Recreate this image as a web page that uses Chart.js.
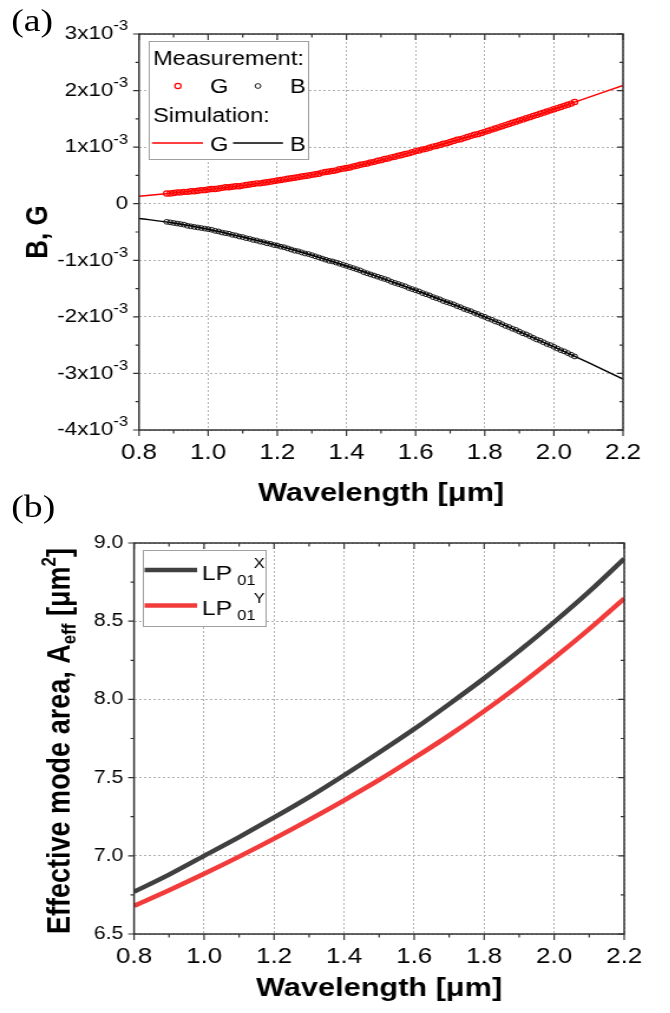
<!DOCTYPE html>
<html>
<head>
<meta charset="utf-8">
<script src="https://cdn.jsdelivr.net/npm/chart.js@4.4.0/dist/chart.umd.min.js"></script>
<style>
  html, body { margin: 0; padding: 0; background: #fff; }
  body { width: 670px; height: 1013px; overflow: hidden; position: relative; }
  /* the reference figure is stretched sideways, so the whole drawing is too */
  #wrap { position: absolute; left: 0; top: 0; width: 568px; height: 1013px; transform: scaleX(1.18); transform-origin: 0 0; }
  canvas { position: absolute; left: 0; }
  #chartA { top: 0; }
  #chartB { top: 510px; }
  .panel { position: absolute; font-family: 'Liberation Serif', 'Times New Roman', serif; font-size: 32px; line-height: 32px; color: #000; }
</style>
</head>
<body>
<div id="wrap">
  <canvas id="chartA" width="568" height="510"></canvas>
  <canvas id="chartB" width="568" height="503"></canvas>
  <div class="panel" style="left:9.5px; top:4px">(a)</div>
  <div class="panel" style="left:9.5px; top:490px">(b)</div>
</div>
<script>
// ---- data (a): susceptance B and conductance G, in units of 1e-3 ----
const xTicks = [0.8, 1.0, 1.2, 1.4, 1.6, 1.8, 2.0, 2.2];
const bgTicks = [-4, -3, -2, -1, 0, 1, 2, 3];
const bgExponent = '-3';

const simWavelength = [0.8, 0.9, 1.0, 1.1, 1.2, 1.3, 1.4, 1.5, 1.6, 1.7, 1.8, 1.9, 2.0, 2.1, 2.2];
const simG = [0.13, 0.19, 0.25, 0.32, 0.405, 0.51, 0.63, 0.77, 0.925, 1.09, 1.27, 1.465, 1.67, 1.88, 2.09];
const simB = [-0.26, -0.34, -0.45, -0.59, -0.74, -0.91, -1.10, -1.31, -1.53, -1.76, -2.00, -2.26, -2.53, -2.81, -3.10];

const measWavelength = [
  0.88, 0.89, 0.90, 0.91, 0.92, 0.93, 0.94, 0.95, 0.96, 0.97, 0.98, 0.99,
  1.00, 1.01, 1.02, 1.03, 1.04, 1.05, 1.06, 1.07, 1.08, 1.09,
  1.10, 1.11, 1.12, 1.13, 1.14, 1.15, 1.16, 1.17, 1.18, 1.19,
  1.20, 1.21, 1.22, 1.23, 1.24, 1.25, 1.26, 1.27, 1.28, 1.29,
  1.30, 1.31, 1.32, 1.33, 1.34, 1.35, 1.36, 1.37, 1.38, 1.39,
  1.40, 1.41, 1.42, 1.43, 1.44, 1.45, 1.46, 1.47, 1.48, 1.49,
  1.50, 1.51, 1.52, 1.53, 1.54, 1.55, 1.56, 1.57, 1.58, 1.59,
  1.60, 1.61, 1.62, 1.63, 1.64, 1.65, 1.66, 1.67, 1.68, 1.69,
  1.70, 1.71, 1.72, 1.73, 1.74, 1.75, 1.76, 1.77, 1.78, 1.79,
  1.80, 1.81, 1.82, 1.83, 1.84, 1.85, 1.86, 1.87, 1.88, 1.89,
  1.90, 1.91, 1.92, 1.93, 1.94, 1.95, 1.96, 1.97, 1.98, 1.99,
  2.00, 2.01, 2.02, 2.03, 2.04, 2.05, 2.06
];
const measG = [
  0.18, 0.18, 0.19, 0.20, 0.20, 0.21, 0.21, 0.22, 0.22, 0.23, 0.24, 0.24,
  0.25, 0.26, 0.26, 0.27, 0.28, 0.29, 0.29, 0.30, 0.31, 0.31,
  0.32, 0.33, 0.34, 0.35, 0.36, 0.36, 0.37, 0.38, 0.39, 0.40,
  0.41, 0.42, 0.43, 0.44, 0.45, 0.46, 0.47, 0.48, 0.49, 0.50,
  0.51, 0.52, 0.53, 0.55, 0.56, 0.57, 0.58, 0.59, 0.61, 0.62,
  0.63, 0.64, 0.66, 0.67, 0.69, 0.70, 0.71, 0.73, 0.74, 0.76,
  0.77, 0.79, 0.80, 0.82, 0.83, 0.85, 0.86, 0.88, 0.89, 0.91,
  0.93, 0.94, 0.96, 0.97, 0.99, 1.01, 1.02, 1.04, 1.06, 1.07,
  1.09, 1.11, 1.13, 1.14, 1.16, 1.18, 1.20, 1.22, 1.23, 1.25,
  1.27, 1.29, 1.31, 1.33, 1.35, 1.37, 1.39, 1.41, 1.43, 1.45,
  1.47, 1.49, 1.51, 1.53, 1.55, 1.57, 1.59, 1.61, 1.63, 1.65,
  1.67, 1.69, 1.71, 1.73, 1.75, 1.77, 1.80
];
const measB = [
  -0.32, -0.33, -0.34, -0.35, -0.36, -0.37, -0.39, -0.40, -0.41, -0.42, -0.43, -0.44,
  -0.45, -0.46, -0.48, -0.49, -0.51, -0.52, -0.53, -0.55, -0.56, -0.58,
  -0.59, -0.61, -0.62, -0.64, -0.65, -0.67, -0.68, -0.70, -0.71, -0.73,
  -0.74, -0.76, -0.77, -0.79, -0.81, -0.83, -0.84, -0.86, -0.88, -0.89,
  -0.91, -0.93, -0.95, -0.97, -0.99, -1.01, -1.02, -1.04, -1.06, -1.08,
  -1.10, -1.12, -1.14, -1.16, -1.18, -1.21, -1.23, -1.25, -1.27, -1.29,
  -1.31, -1.33, -1.35, -1.38, -1.40, -1.42, -1.44, -1.46, -1.49, -1.51,
  -1.53, -1.55, -1.58, -1.60, -1.62, -1.65, -1.67, -1.69, -1.72, -1.74,
  -1.76, -1.78, -1.81, -1.83, -1.86, -1.88, -1.90, -1.93, -1.95, -1.98,
  -2.00, -2.03, -2.05, -2.08, -2.10, -2.13, -2.16, -2.18, -2.21, -2.23,
  -2.26, -2.29, -2.31, -2.34, -2.37, -2.40, -2.42, -2.45, -2.48, -2.50,
  -2.53, -2.56, -2.59, -2.61, -2.64, -2.67, -2.70
];

// ---- data (b): effective mode area ----
const aeffTicks = [6.5, 7.0, 7.5, 8.0, 8.5, 9.0];
const aeffWavelength = [0.8, 0.9, 1.0, 1.1, 1.2, 1.3, 1.4, 1.5, 1.6, 1.7, 1.8, 1.9, 2.0, 2.1, 2.2];
const aeffX = [6.77, 6.88, 7.00, 7.12, 7.245, 7.375, 7.515, 7.66, 7.81, 7.97, 8.135, 8.31, 8.495, 8.69, 8.90];
const aeffY = [6.68, 6.78, 6.885, 6.995, 7.11, 7.23, 7.355, 7.485, 7.625, 7.77, 7.925, 8.09, 8.265, 8.45, 8.645];

const FONT = "'Liberation Sans', Arial, Helvetica, sans-serif";
Chart.defaults.font.family = FONT;
Chart.defaults.color = '#000';

const pts = (xs, ys) => xs.map((x, i) => ({ x: x, y: ys[i] }));
const setTicks = arr => scale => { scale.ticks = arr.map(v => ({ value: v })); };
const gridLines = { color: '#b0b0b0', lineWidth: 1, drawTicks: false };
const dotted = { display: false, dash: [2, 2] };

// box, tick marks out on bottom/left, in on top/right
function drawFrame(chart) {
    const { ctx, chartArea: a, scales: { x, y } } = chart;
    const xv = x.ticks.map(t => t.value);
    const yv = y.ticks.map(t => t.value);
    const mids = v => v.slice(1).map((t, i) => (t + v[i]) / 2);
    ctx.save();
    ctx.strokeStyle = '#333';
    ctx.lineWidth = 1.5;
    ctx.strokeRect(a.left, a.top, a.right - a.left, a.bottom - a.top);
    ctx.lineWidth = 1.2;
    ctx.beginPath();
    [[xv, 6], [mids(xv), 3.5]].forEach(([vals, len]) => vals.forEach(v => {
        const px = x.getPixelForValue(v);
        ctx.moveTo(px, a.bottom); ctx.lineTo(px, a.bottom + len);
        ctx.moveTo(px, a.top); ctx.lineTo(px, a.top + len);
    }));
    [[yv, 5], [mids(yv), 3]].forEach(([vals, len]) => vals.forEach(v => {
        const py = y.getPixelForValue(v);
        ctx.moveTo(a.left, py); ctx.lineTo(a.left - len, py);
        ctx.moveTo(a.right, py); ctx.lineTo(a.right - len, py);
    }));
    ctx.stroke();
    ctx.restore();
}

// y tick labels like 3x10^-3
function drawSciTicks(chart) {
    const { ctx, chartArea: a, scales: { y } } = chart;
    const xr = a.left - 9.3;
    ctx.save();
    ctx.fillStyle = '#000';
    ctx.textAlign = 'right';
    ctx.textBaseline = 'middle';
    y.ticks.forEach(t => {
        const py = y.getPixelForValue(t.value);
        ctx.font = '19px ' + FONT;
        if (t.value === 0) {
            ctx.fillText('0', xr, py);
            return;
        }
        ctx.font = '14px ' + FONT;
        const w = ctx.measureText(bgExponent).width;
        ctx.fillText(bgExponent, xr, py - 7.5);
        ctx.font = '19px ' + FONT;
        ctx.fillText(t.value + 'x10', xr - w, py);
    });
    ctx.restore();
}

function legendBox(ctx, x, y, w, h) {
    ctx.fillStyle = '#fff';
    ctx.fillRect(x, y, w, h);
    ctx.strokeStyle = '#a0a0a0';
    ctx.lineWidth = 1;
    ctx.strokeRect(x + 0.5, y + 0.5, w, h);
}

function drawLegendA(chart) {
    const { ctx } = chart;
    const ds = chart.data.datasets;
    ctx.save();
    legendBox(ctx, 126, 41, 135, 118);
    ctx.fillStyle = '#000';
    ctx.font = '20px ' + FONT;
    ctx.textAlign = 'left';
    ctx.textBaseline = 'alphabetic';
    ctx.fillText('Measurement:', 129.7, 65);
    ctx.fillText('G', 178, 93);
    ctx.fillText('B', 245.8, 93);
    ctx.fillText('Simulation:', 129.7, 122);
    ctx.fillText('G', 178, 151);
    ctx.fillText('B', 245.8, 151);
    [[ds[2], 150.8], [ds[3], 218.6]].forEach(([d, cx]) => {
        ctx.beginPath();
        ctx.strokeStyle = d.borderColor;
        ctx.lineWidth = d.pointBorderWidth;
        ctx.arc(cx, 86, d.pointRadius, 0, Math.PI * 2);
        ctx.stroke();
    });
    [[ds[0], 128.8, 172], [ds[1], 197.5, 239.8]].forEach(([d, x1, x2]) => {
        ctx.beginPath();
        ctx.strokeStyle = d.borderColor;
        ctx.lineWidth = d.borderWidth;
        ctx.moveTo(x1, 143);
        ctx.lineTo(x2, 143);
        ctx.stroke();
    });
    ctx.restore();
}

function drawLegendB(chart) {
    const { ctx } = chart;
    const ds = chart.data.datasets;
    ctx.save();
    legendBox(ctx, 121, 40, 104, 76);
    [[ds[0], 60, 70, 'X'], [ds[1], 95.5, 105, 'Y']].forEach(([d, ly, base, pol]) => {
        ctx.beginPath();
        ctx.strokeStyle = d.borderColor;
        ctx.lineWidth = d.borderWidth;
        ctx.moveTo(122.5, ly);
        ctx.lineTo(167, ly);
        ctx.stroke();
        ctx.fillStyle = '#000';
        ctx.textAlign = 'left';
        ctx.textBaseline = 'alphabetic';
        ctx.font = '21px ' + FONT;
        ctx.fillText('LP', 171, base);
        ctx.font = '14px ' + FONT;
        ctx.fillText('01', 201, base + 5);
        ctx.fillText(pol, 215, base - 12);
    });
    ctx.restore();
}

// rotated y title with subscript and superscript
function drawAeffTitle(chart) {
    const { ctx } = chart;
    const parts = [
        ['Effective mode area, A', 27, 0],
        ['eff', 17, 5],
        [' [\u03bcm', 27, 0],
        ['2', 17, -12],
        [']', 27, 0]
    ];
    ctx.save();
    ctx.translate(59.3, 231);
    ctx.rotate(-Math.PI / 2);
    ctx.fillStyle = '#000';
    ctx.textAlign = 'left';
    ctx.textBaseline = 'alphabetic';
    let total = 0;
    parts.forEach(p => { ctx.font = 'bold ' + p[1] + 'px ' + FONT; total += ctx.measureText(p[0]).width; });
    let x = -total / 2;
    parts.forEach(p => {
        ctx.font = 'bold ' + p[1] + 'px ' + FONT;
        ctx.fillText(p[0], x, p[2]);
        x += ctx.measureText(p[0]).width;
    });
    ctx.restore();
}

new Chart(document.getElementById('chartA'), {
    type: 'scatter',
    data: {
        datasets: [
            { label: 'Simulation G', data: pts(simWavelength, simG), showLine: true, borderColor: '#ff0000', borderWidth: 1.5, pointRadius: 0, cubicInterpolationMode: 'monotone' },
            { label: 'Simulation B', data: pts(simWavelength, simB), showLine: true, borderColor: '#000000', borderWidth: 1.5, pointRadius: 0, cubicInterpolationMode: 'monotone' },
            { label: 'Measurement G', data: pts(measWavelength, measG), pointRadius: 2.6, pointBorderWidth: 1.2, borderColor: '#ff0000', backgroundColor: 'rgba(0,0,0,0)' },
            { label: 'Measurement B', data: pts(measWavelength, measB), pointRadius: 2.4, pointBorderWidth: 0.9, borderColor: '#000000', backgroundColor: 'rgba(0,0,0,0)' }
        ]
    },
    options: {
        responsive: false,
        animation: false,
        layout: { padding: { left: 0, right: 40, top: 34, bottom: 0 } },
        plugins: { legend: { display: false }, tooltip: { enabled: false } },
        scales: {
            x: {
                type: 'linear', min: 0.8, max: 2.2,
                afterBuildTicks: setTicks(xTicks),
                afterFit: s => { s.height = 80; },
                ticks: { callback: v => v.toFixed(1), font: { size: 22 }, padding: 10, maxRotation: 0, autoSkip: false },
                grid: gridLines, border: dotted,
                title: { display: true, text: 'Wavelength [\u03bcm]', font: { size: 26, weight: 'bold' }, padding: { top: 0, bottom: 1 } }
            },
            y: {
                min: -4, max: 3,
                afterBuildTicks: setTicks(bgTicks),
                afterFit: s => { s.width = 117.8; },
                ticks: { display: false },
                grid: gridLines, border: dotted,
                title: { display: true, text: 'B, G', font: { size: 26, weight: 'bold' }, padding: { top: 17.5, bottom: 0 } }
            }
        }
    },
    plugins: [{ id: 'decorA', afterDraw(chart) { drawFrame(chart); drawSciTicks(chart); drawLegendA(chart); } }]
});

new Chart(document.getElementById('chartB'), {
    type: 'scatter',
    data: {
        datasets: [
            { label: 'LP01 X', data: pts(aeffWavelength, aeffX), showLine: true, borderColor: '#404040', borderWidth: 4.5, pointRadius: 0, cubicInterpolationMode: 'monotone' },
            { label: 'LP01 Y', data: pts(aeffWavelength, aeffY), showLine: true, borderColor: '#f23b3b', borderWidth: 4.5, pointRadius: 0, cubicInterpolationMode: 'monotone' }
        ]
    },
    options: {
        responsive: false,
        animation: false,
        layout: { padding: { left: 0, right: 39, top: 33, bottom: 0 } },
        plugins: { legend: { display: false }, tooltip: { enabled: false } },
        scales: {
            x: {
                type: 'linear', min: 0.8, max: 2.2,
                afterBuildTicks: setTicks(xTicks),
                afterFit: s => { s.height = 79; },
                ticks: { callback: v => v.toFixed(1), font: { size: 22 }, padding: 10, maxRotation: 0, autoSkip: false },
                grid: gridLines, border: dotted,
                title: { display: true, text: 'Wavelength [\u03bcm]', font: { size: 26, weight: 'bold' }, padding: { top: 0, bottom: 8.4 } }
            },
            y: {
                min: 6.5, max: 9.0,
                afterBuildTicks: setTicks(aeffTicks),
                afterFit: s => { s.width = 113.6; },
                ticks: { callback: v => v.toFixed(1), font: { size: 18 }, padding: 9 },
                grid: gridLines, border: dotted,
                title: { display: false }
            }
        }
    },
    plugins: [{ id: 'decorB', afterDraw(chart) { drawFrame(chart); drawLegendB(chart); drawAeffTitle(chart); } }]
});
</script>
</body>
</html>
